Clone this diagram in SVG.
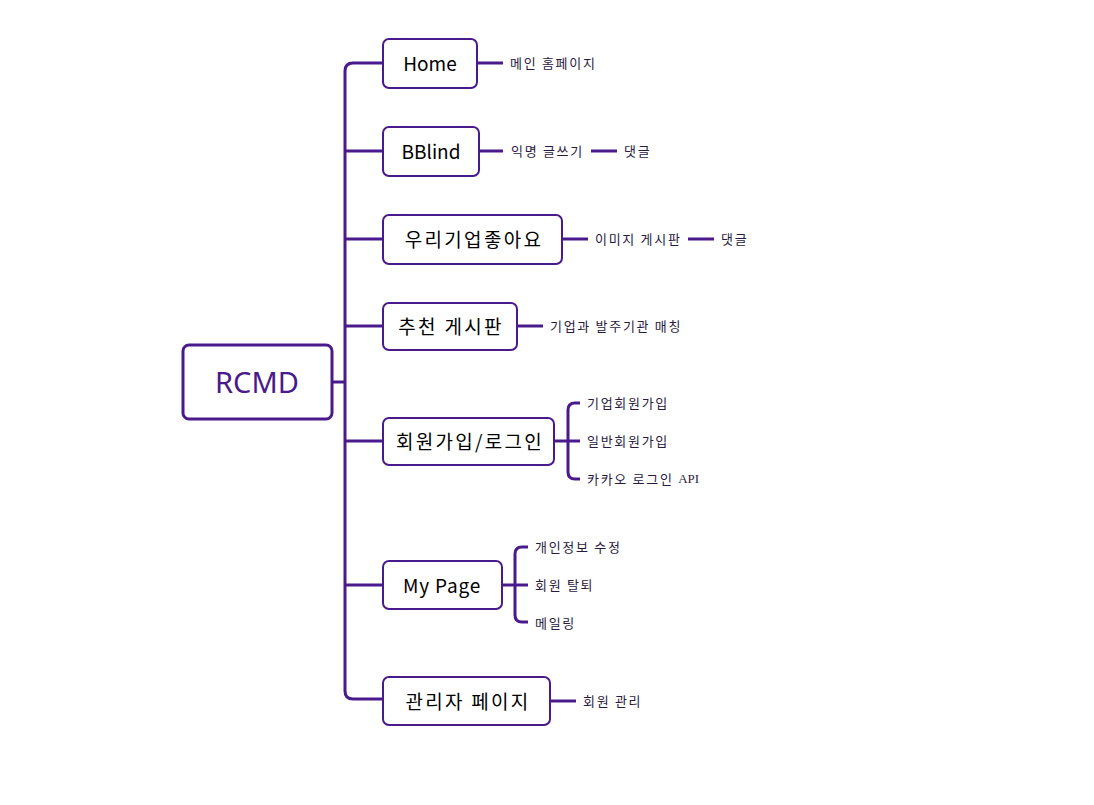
<svg xmlns="http://www.w3.org/2000/svg" width="1094" height="805" viewBox="0 0 1094 805">
<style>
.box{fill:#fff;stroke:#4a1a8c;stroke-width:2}
.root{fill:#fff;stroke:#4a1a8c;stroke-width:3}
.ln{fill:none;stroke:#4a1a8c;stroke-width:3;stroke-linecap:butt}
.nt{font-family:"Noto Sans CJK KR","Noto Sans",sans-serif;font-size:19px;fill:#000;text-anchor:middle;dominant-baseline:central}
.ko{letter-spacing:2.3px}
.rt{font-family:"Noto Sans","Noto Sans CJK KR",sans-serif;font-size:29px;fill:#4a1a8c;text-anchor:middle;dominant-baseline:central}
.lf{font-family:"Noto Sans CJK KR","Noto Sans",sans-serif;font-size:13px;fill:#2a1a40;dominant-baseline:central;letter-spacing:1.7px}
.ser{font-family:"Liberation Serif",serif;letter-spacing:0}
</style>
<rect width="1094" height="805" fill="#fff"/>
<g id="connectors">
<path class="ln" d="M332 382H345"/>
<path class="ln" d="M383 63H353Q345 63 345 71V691Q345 699 353 699H383"/>
<path class="ln" d="M345 151H383M345 239H383M345 326H383M345 441H383M345 585H383"/>
<path class="ln" d="M477 63H503"/>
<path class="ln" d="M479 151H503M591 151H617"/>
<path class="ln" d="M562 239H588M688 239H714"/>
<path class="ln" d="M517 326H543"/>
<path class="ln" d="M554 441H580"/>
<path class="ln" d="M580 403H575Q568 403 568 410V472Q568 479 575 479H580"/>
<path class="ln" d="M502 585H528"/>
<path class="ln" d="M528 547H522Q515 547 515 554V615Q515 622 522 622H528"/>
<path class="ln" d="M550 701H576"/>
</g>
<g id="root"><rect class="root" x="183" y="345" width="149" height="74" rx="6"/><text class="rt" x="257" y="381">RCMD</text></g>
<g id="home"><rect class="box" x="383" y="39" width="94" height="49" rx="6"/><text class="nt" x="430" y="62">Home</text></g>
<g id="bblind"><rect class="box" x="383" y="127" width="96" height="49" rx="6"/><text class="nt" x="431" y="150">BBlind</text></g>
<g id="woori"><rect class="box" x="383" y="215" width="179" height="49" rx="6"/><text class="nt ko" x="474" y="238">우리기업좋아요</text></g>
<g id="recommend"><rect class="box" x="383" y="303" width="134" height="47" rx="6"/><text class="nt ko" x="451" y="325">추천 게시판</text></g>
<g id="signup"><rect class="box" x="383" y="418" width="171" height="47" rx="6"/><text class="nt ko" x="470" y="440">회원가입/로그인</text></g>
<g id="mypage"><rect class="box" x="383" y="561" width="119" height="48" rx="6"/><text class="nt" x="442" y="584" letter-spacing="0.8">My Page</text></g>
<g id="admin"><rect class="box" x="383" y="677" width="167" height="48" rx="6"/><text class="nt ko" x="468" y="700">관리자 페이지</text></g>
<g id="leaves">
<text class="lf" x="510" y="62">메인 홈페이지</text>
<text class="lf" x="511" y="150">익명 글쓰기</text>
<text class="lf" x="624" y="150">댓글</text>
<text class="lf" x="595" y="238">이미지 게시판</text>
<text class="lf" x="721" y="238">댓글</text>
<text class="lf" x="550" y="325">기업과 발주기관 매칭</text>
<text class="lf" x="587" y="402">기업회원가입</text>
<text class="lf" x="587" y="440">일반회원가입</text>
<text class="lf" x="587" y="478">카카오 로그인 <tspan class="ser">API</tspan></text>
<text class="lf" x="535" y="546">개인정보 수정</text>
<text class="lf" x="535" y="584">회원 탈퇴</text>
<text class="lf" x="535" y="622">메일링</text>
<text class="lf" x="583" y="700">회원 관리</text>
</g>
</svg>
